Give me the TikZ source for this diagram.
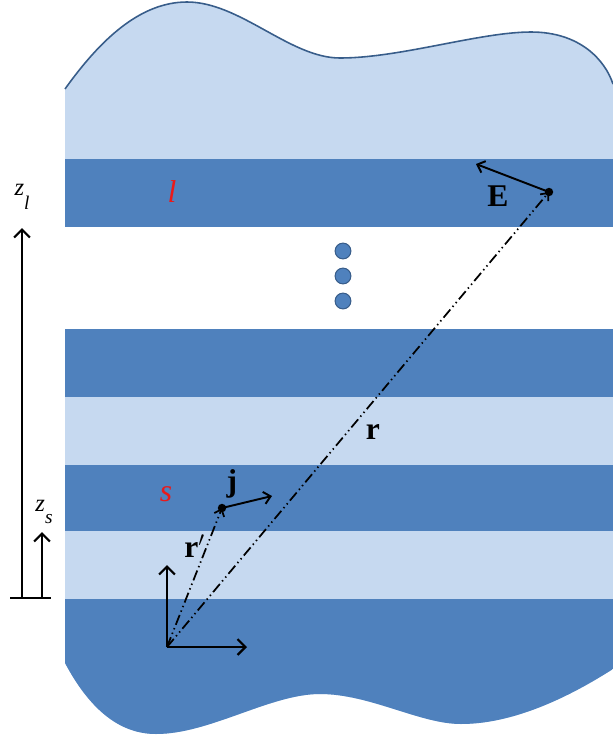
\documentclass[tikz,border=0pt]{standalone}
\usepackage{fontspec}
\setmainfont{Liberation Serif}
\usetikzlibrary{arrows.meta}
\definecolor{lightband}{RGB}{198,217,240}
\definecolor{darkband}{RGB}{79,129,189}
\definecolor{edgeblue}{RGB}{56,93,138}
\definecolor{labelred}{RGB}{235,25,25}
\begin{document}
\begin{tikzpicture}[x=0.02cm,y=-0.02cm,
  axisarrow/.style={-{Straight Barb[length=4.5pt,width=9pt,line width=1.3pt]}, line width=1.3pt},
  smallarrow/.style={-{Straight Barb[length=3.8pt,width=7pt,line width=1.1pt]}, line width=1.1pt},
  dashdotdot/.style={line width=1pt, dash pattern=on 6pt off 2pt on 0.8pt off 2pt on 0.8pt off 2pt,
     -{Straight Barb[length=3.5pt,width=6pt,line width=1pt]}},
  ptdot/.style={circle, fill=black, inner sep=0pt, minimum size=4.8pt},
  bigdot/.style={circle, fill=darkband, draw=edgeblue, line width=0.6pt, inner sep=0pt, minimum size=9pt},
  boldlbl/.style={font=\fontsize{18}{20}\selectfont\bfseries, inner sep=0pt},
  redlbl/.style={font=\fontsize{18}{20}\selectfont\itshape, text=labelred, inner sep=0pt},
  zlbl/.style={font=\fontsize{14}{16}\selectfont\itshape, inner sep=0pt}]
\useasboundingbox (0,0) rectangle (613,735);
% layered body
\begin{scope}
  \clip (65,89) .. controls (100,40) and (140,2) .. (187,2)
        .. controls (240,2) and (290,58) .. (340,58)
        .. controls (400,58) and (480,32) .. (531,32)
        .. controls (580,32) and (605,60) .. (613,84)
        -- (613,669)
        .. controls (580,690) and (520,724) .. (461,724)
        .. controls (420,724) and (370,694) .. (320,694)
        .. controls (270,694) and (210,734) .. (156,734)
        .. controls (120,734) and (90,710) .. (65,663) -- cycle;
  \fill[lightband] (0,0) rectangle (613,735);
  \fill[darkband] (0,159) rectangle (613,227);
  \fill[white] (0,227) rectangle (613,329);
  \fill[darkband] (0,329) rectangle (613,397);
  \fill[darkband] (0,465) rectangle (613,531);
  \fill[darkband] (0,599) rectangle (613,735);
\end{scope}
\draw[edgeblue, line width=0.9pt] (65,89) .. controls (100,40) and (140,2) .. (187,2)
        .. controls (240,2) and (290,58) .. (340,58)
        .. controls (400,58) and (480,32) .. (531,32)
        .. controls (580,32) and (605,60) .. (613,84);
% dots in the gap
\node[bigdot] (d1) at (343,251) {};
\node[bigdot] (d2) at (343,276) {};
\node[bigdot] (d3) at (343,301) {};
% left z axis
\coordinate (base1) at (10,598);
\coordinate (base2) at (51,598);
\coordinate (zbot) at (22,598);
\coordinate (ztop) at (22,228);
\coordinate (sbot) at (42,598);
\coordinate (stop) at (42,532);
\draw[line width=1.3pt] (base1) -- (base2);
\draw[axisarrow] (zbot) -- (ztop);
\draw[axisarrow] (sbot) -- (stop);
\node[zlbl] (zl) at (22,197) {z\raisebox{-1.2ex}{\fontsize{11}{12}\selectfont l}};
\node[zlbl] (zs) at (44,512) {z\raisebox{-1.0ex}{\fontsize{11}{12}\selectfont s}};
% layer labels
\node[redlbl] (ll) at (172,192) {l};
\node[redlbl] (sl) at (166,494) {s};
% origin frame
\coordinate (O) at (167,647);
\coordinate (Oy) at (167,565);
\coordinate (Ox) at (247,647);
\draw[axisarrow] (O) -- (Oy);
\draw[axisarrow] (O) -- (Ox);
% source point and field point
\node[ptdot] (J) at (222,508) {};
\node[ptdot] (Ep) at (549,192) {};
\coordinate (Jtip) at (272,496);
\coordinate (Etip) at (476,164);
\draw[smallarrow] (J.center) -- (Jtip);
\draw[smallarrow] (Ep.center) -- (Etip);
\draw[dashdotdot] (O) -- (J.center);
\draw[dashdotdot] (O) -- (Ep.center);
% labels
\node[boldlbl] (jl) at (232,484) {j};
\node[boldlbl] (El) at (498,196) {E};
\node[boldlbl] (rl) at (373,432) {r};
\node[boldlbl, anchor=west] (rpl) at (184,546) {r$'$};
\end{tikzpicture}
\end{document}
